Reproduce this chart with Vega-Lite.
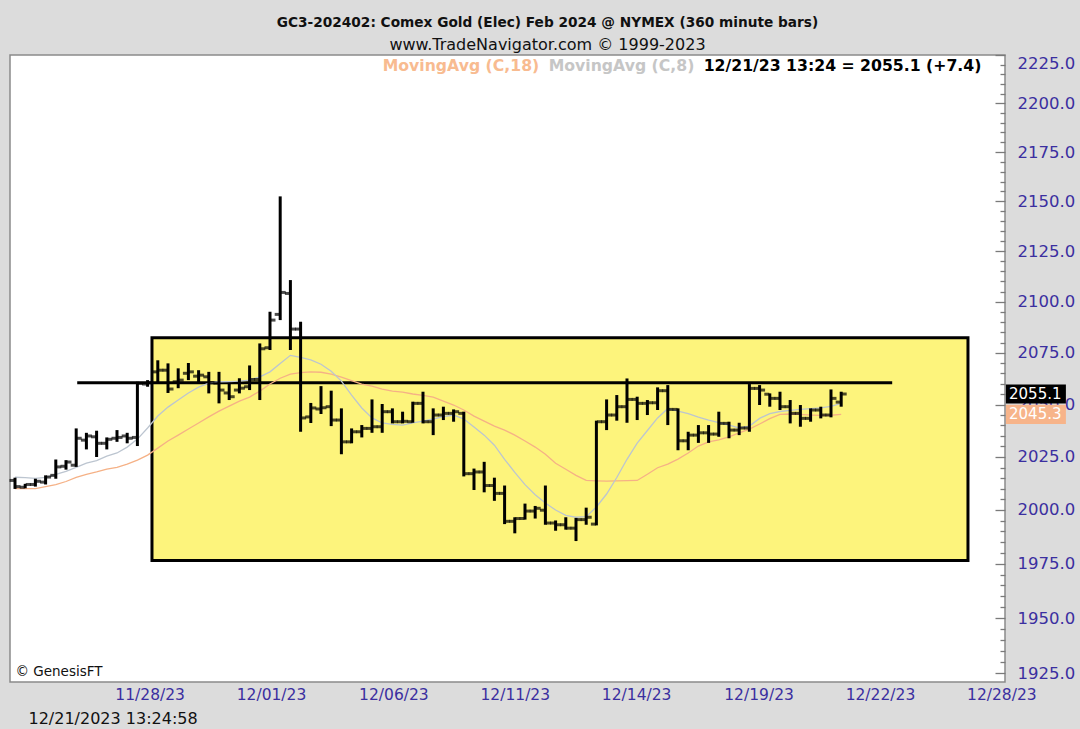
{
  "$schema": "https://vega.github.io/schema/vega-lite/v6.json",
  "width": 995,
  "height": 627,
  "autosize": {"type": "none"},
  "padding": {"left": 10, "top": 55, "right": 75, "bottom": 47},
  "background": "#dcdcdc",
  "config": {
    "font": "DejaVu Sans",
    "view": {"fill": "#ffffff", "stroke": "#8a8a8a", "strokeWidth": 1.5}
  },
  "title": {
    "text": "GC3-202402:  Comex Gold (Elec) Feb 2024 @ NYMEX  (360 minute bars)",
    "subtitle": "www.TradeNavigator.com © 1999-2023",
    "anchor": "middle",
    "dx": 40,
    "offset": 1,
    "font": "DejaVu Sans",
    "fontSize": 13.7,
    "fontWeight": "bold",
    "color": "#111111",
    "subtitleFont": "DejaVu Sans",
    "subtitleFontSize": 16,
    "subtitleColor": "#111111",
    "subtitlePadding": 8
  },
  "datasets": {
    "ohlc": [
      {"i":0,"o":2013.9,"h":2015.2,"l":2009.9,"c":2011.0,"ma8":2015.4,"ma18":2010.0},
      {"i":1,"o":2010.7,"h":2012.3,"l":2010.2,"c":2012.0,"ma8":2015.2,"ma18":2010.0},
      {"i":2,"o":2012.0,"h":2014.7,"l":2011.0,"c":2013.5,"ma8":2014.9,"ma18":2010.0},
      {"i":3,"o":2013.1,"h":2016.3,"l":2012.0,"c":2015.5,"ma8":2015.3,"ma18":2011.0},
      {"i":4,"o":2016.3,"h":2023.8,"l":2014.7,"c":2020.3,"ma8":2016.8,"ma18":2011.9},
      {"i":5,"o":2020.6,"h":2023.5,"l":2019.0,"c":2022.6,"ma8":2018.2,"ma18":2013.4},
      {"i":6,"o":2021.1,"h":2038.6,"l":2020.3,"c":2033.9,"ma8":2020.1,"ma18":2015.3},
      {"i":7,"o":2033.0,"h":2036.5,"l":2028.6,"c":2035.0,"ma8":2022.1,"ma18":2016.8},
      {"i":8,"o":2034.6,"h":2037.5,"l":2025.0,"c":2031.5,"ma8":2023.3,"ma18":2017.9},
      {"i":9,"o":2031.5,"h":2034.3,"l":2028.6,"c":2033.4,"ma8":2025.4,"ma18":2019.2},
      {"i":10,"o":2033.9,"h":2037.8,"l":2032.2,"c":2034.3,"ma8":2026.9,"ma18":2020.1},
      {"i":11,"o":2035.0,"h":2036.5,"l":2031.5,"c":2033.9,"ma8":2029.7,"ma18":2021.6},
      {"i":12,"o":2034.3,"h":2061.0,"l":2030.2,"c":2060.2,"ma8":2033.5,"ma18":2023.5},
      {"i":13,"o":2059.9,"h":2061.8,"l":2058.6,"c":2060.5,"ma8":2038.8,"ma18":2025.9},
      {"i":14,"o":2065.8,"h":2071.4,"l":2060.2,"c":2066.6,"ma8":2044.5,"ma18":2029.2},
      {"i":15,"o":2066.6,"h":2069.9,"l":2055.6,"c":2057.5,"ma8":2048.8,"ma18":2032.6},
      {"i":16,"o":2061.0,"h":2067.5,"l":2057.9,"c":2061.8,"ma8":2052.2,"ma18":2035.4},
      {"i":17,"o":2065.1,"h":2070.1,"l":2061.8,"c":2065.8,"ma8":2055.6,"ma18":2038.3},
      {"i":18,"o":2063.7,"h":2066.6,"l":2060.3,"c":2064.2,"ma8":2058.4,"ma18":2041.2},
      {"i":19,"o":2063.4,"h":2065.8,"l":2055.4,"c":2060.5,"ma8":2060.3,"ma18":2044.1},
      {"i":20,"o":2060.3,"h":2065.8,"l":2050.6,"c":2057.0,"ma8":2061.0,"ma18":2046.9},
      {"i":21,"o":2055.6,"h":2060.5,"l":2052.2,"c":2053.8,"ma8":2061.1,"ma18":2049.3},
      {"i":22,"o":2057.0,"h":2062.7,"l":2055.4,"c":2057.9,"ma8":2061.3,"ma18":2051.7},
      {"i":23,"o":2058.6,"h":2068.9,"l":2057.0,"c":2062.1,"ma8":2061.8,"ma18":2053.6},
      {"i":24,"o":2062.1,"h":2079.6,"l":2052.2,"c":2077.0,"ma8":2063.4,"ma18":2056.5},
      {"i":25,"o":2077.5,"h":2095.1,"l":2076.4,"c":2091.0,"ma8":2065.8,"ma18":2059.9},
      {"i":26,"o":2093.8,"h":2152.5,"l":2091.0,"c":2104.6,"ma8":2069.9,"ma18":2062.7},
      {"i":27,"o":2104.1,"h":2110.7,"l":2076.4,"c":2086.6,"ma8":2073.8,"ma18":2064.7},
      {"i":28,"o":2086.6,"h":2090.2,"l":2037.0,"c":2043.6,"ma8":2072.8,"ma18":2065.4},
      {"i":29,"o":2044.1,"h":2050.8,"l":2041.2,"c":2048.4,"ma8":2071.6,"ma18":2065.8},
      {"i":30,"o":2047.9,"h":2058.9,"l":2045.5,"c":2048.5,"ma8":2069.5,"ma18":2065.6},
      {"i":31,"o":2049.0,"h":2056.7,"l":2039.7,"c":2042.6,"ma8":2066.1,"ma18":2064.7},
      {"i":32,"o":2042.6,"h":2048.2,"l":2026.3,"c":2032.2,"ma8":2061.3,"ma18":2063.2},
      {"i":33,"o":2032.2,"h":2038.6,"l":2031.5,"c":2037.0,"ma8":2054.6,"ma18":2061.5},
      {"i":34,"o":2037.0,"h":2040.2,"l":2034.3,"c":2038.6,"ma8":2048.4,"ma18":2059.9},
      {"i":35,"o":2038.6,"h":2052.5,"l":2036.5,"c":2039.4,"ma8":2043.6,"ma18":2058.9},
      {"i":36,"o":2039.4,"h":2050.3,"l":2036.5,"c":2046.6,"ma8":2041.2,"ma18":2057.5},
      {"i":37,"o":2046.6,"h":2048.2,"l":2041.0,"c":2041.8,"ma8":2040.5,"ma18":2056.5},
      {"i":38,"o":2041.8,"h":2046.6,"l":2041.0,"c":2042.0,"ma8":2040.2,"ma18":2056.0},
      {"i":39,"o":2041.8,"h":2051.4,"l":2041.3,"c":2050.6,"ma8":2041.2,"ma18":2055.1},
      {"i":40,"o":2050.6,"h":2056.2,"l":2041.0,"c":2041.8,"ma8":2042.1,"ma18":2054.4},
      {"i":41,"o":2041.8,"h":2048.2,"l":2035.4,"c":2045.0,"ma8":2043.1,"ma18":2053.6},
      {"i":42,"o":2045.0,"h":2049.0,"l":2042.6,"c":2045.8,"ma8":2044.2,"ma18":2051.7},
      {"i":43,"o":2045.8,"h":2047.7,"l":2041.8,"c":2046.6,"ma8":2045.0,"ma18":2049.8},
      {"i":44,"o":2045.8,"h":2046.6,"l":2015.8,"c":2017.1,"ma8":2043.1,"ma18":2047.4},
      {"i":45,"o":2017.1,"h":2019.5,"l":2009.4,"c":2017.9,"ma8":2039.3,"ma18":2044.5},
      {"i":46,"o":2017.9,"h":2022.7,"l":2008.3,"c":2011.5,"ma8":2035.4,"ma18":2042.1},
      {"i":47,"o":2011.5,"h":2015.2,"l":2004.3,"c":2007.8,"ma8":2030.6,"ma18":2039.7},
      {"i":48,"o":2007.8,"h":2011.5,"l":1993.4,"c":1994.7,"ma8":2023.9,"ma18":2037.8},
      {"i":49,"o":1994.7,"h":1996.6,"l":1989.1,"c":1996.0,"ma8":2017.7,"ma18":2035.4},
      {"i":50,"o":1996.0,"h":2003.0,"l":1995.5,"c":1999.5,"ma8":2011.9,"ma18":2032.6},
      {"i":51,"o":1999.5,"h":2001.9,"l":1996.0,"c":2000.8,"ma8":2007.2,"ma18":2029.7},
      {"i":52,"o":1999.9,"h":2011.5,"l":1993.1,"c":1993.9,"ma8":2003.3,"ma18":2026.3},
      {"i":53,"o":1993.9,"h":1995.1,"l":1990.3,"c":1993.1,"ma8":2000.0,"ma18":2022.0},
      {"i":54,"o":1993.1,"h":1996.6,"l":1990.8,"c":1991.5,"ma8":1997.5,"ma18":2019.2},
      {"i":55,"o":1991.5,"h":1996.3,"l":1985.5,"c":1995.5,"ma8":1996.6,"ma18":2016.3},
      {"i":56,"o":1995.5,"h":2001.1,"l":1993.1,"c":1996.6,"ma8":1996.9,"ma18":2013.9},
      {"i":57,"o":1993.4,"h":2042.3,"l":1992.8,"c":2041.8,"ma8":2001.4,"ma18":2013.7},
      {"i":58,"o":2041.8,"h":2052.5,"l":2037.8,"c":2045.0,"ma8":2007.5,"ma18":2013.6},
      {"i":59,"o":2045.0,"h":2054.6,"l":2042.3,"c":2049.0,"ma8":2015.3,"ma18":2013.7},
      {"i":60,"o":2049.0,"h":2062.6,"l":2041.3,"c":2052.5,"ma8":2023.9,"ma18":2013.8},
      {"i":61,"o":2052.5,"h":2053.8,"l":2042.6,"c":2050.6,"ma8":2031.6,"ma18":2013.9},
      {"i":62,"o":2050.6,"h":2052.2,"l":2045.0,"c":2050.9,"ma8":2037.6,"ma18":2016.8},
      {"i":63,"o":2050.9,"h":2058.3,"l":2047.4,"c":2056.7,"ma8":2043.6,"ma18":2019.9},
      {"i":64,"o":2056.7,"h":2059.4,"l":2040.2,"c":2047.7,"ma8":2048.1,"ma18":2021.6},
      {"i":65,"o":2047.7,"h":2048.2,"l":2028.2,"c":2032.7,"ma8":2046.9,"ma18":2024.0},
      {"i":66,"o":2032.7,"h":2037.0,"l":2028.2,"c":2035.4,"ma8":2045.7,"ma18":2026.9},
      {"i":67,"o":2035.4,"h":2040.2,"l":2031.7,"c":2036.5,"ma8":2044.0,"ma18":2030.2},
      {"i":68,"o":2036.5,"h":2040.2,"l":2031.7,"c":2035.9,"ma8":2042.6,"ma18":2032.2},
      {"i":69,"o":2035.9,"h":2046.6,"l":2034.6,"c":2041.0,"ma8":2041.4,"ma18":2033.1},
      {"i":70,"o":2041.0,"h":2041.8,"l":2033.9,"c":2037.8,"ma8":2040.2,"ma18":2034.6},
      {"i":71,"o":2037.8,"h":2041.3,"l":2035.4,"c":2038.8,"ma8":2038.8,"ma18":2036.5},
      {"i":72,"o":2038.8,"h":2059.9,"l":2037.0,"c":2057.8,"ma8":2039.7,"ma18":2038.3},
      {"i":73,"o":2057.8,"h":2059.4,"l":2049.8,"c":2057.0,"ma8":2043.4,"ma18":2040.7},
      {"i":74,"o":2055.0,"h":2055.4,"l":2049.0,"c":2053.0,"ma8":2045.7,"ma18":2043.3},
      {"i":75,"o":2053.0,"h":2056.2,"l":2047.4,"c":2049.0,"ma8":2046.7,"ma18":2045.3},
      {"i":76,"o":2049.0,"h":2052.2,"l":2041.0,"c":2045.8,"ma8":2047.2,"ma18":2045.5},
      {"i":77,"o":2045.8,"h":2049.8,"l":2039.4,"c":2043.4,"ma8":2047.7,"ma18":2045.3},
      {"i":78,"o":2043.4,"h":2048.2,"l":2041.8,"c":2047.4,"ma8":2048.1,"ma18":2045.0},
      {"i":79,"o":2047.4,"h":2049.0,"l":2043.4,"c":2045.0,"ma8":2048.4,"ma18":2044.8},
      {"i":80,"o":2045.0,"h":2057.3,"l":2043.9,"c":2053.0,"ma8":2049.1,"ma18":2044.9},
      {"i":81,"o":2051.2,"h":2056.2,"l":2049.0,"c":2055.1,"ma8":2050.6,"ma18":2045.3}
    ],
    "box": [{"a": 13.43, "b": 93.43, "lo": 1976.5, "hi": 2082.4}],
    "level": [{"a": 6.1, "b": 86.0, "lvl": 2060.5}]
  },
  "layer": [
    {
      "data": {"name": "box"},
      "mark": {"type": "rect", "fill": "#fdf47c", "stroke": "#000000", "strokeWidth": 3},
      "encoding": {
        "x": {
          "field": "a", "type": "quantitative",
          "scale": {"domain": [-0.49, 97.06], "nice": false, "zero": false},
          "axis": {
            "values": [13.2, 25.1, 37.1, 49.0, 60.9, 72.9, 84.8, 96.7],
            "labelExpr": "datum.value < 20 ? '11/28/23' : datum.value < 30 ? '12/01/23' : datum.value < 40 ? '12/06/23' : datum.value < 55 ? '12/11/23' : datum.value < 65 ? '12/14/23' : datum.value < 78 ? '12/19/23' : datum.value < 90 ? '12/22/23' : '12/28/23'",
            "domain": false, "ticks": false, "grid": false,
            "labelColor": "#3b2fa0", "labelFont": "DejaVu Sans", "labelFontSize": 15.5,
            "labelPadding": 5, "labelFlush": false, "labelOverlap": false, "labelBound": false,
            "title": "12/21/2023 13:24:58", "titleX": 18, "titleY": 36,
            "titleAnchor": "start", "titleAlign": "left", "titleBaseline": "middle",
            "titleFont": "DejaVu Sans", "titleFontSize": 16, "titleFontWeight": "normal", "titleColor": "#111111"
          }
        },
        "x2": {"field": "b"},
        "y": {
          "field": "lo", "type": "quantitative",
          "scale": {"type": "log", "domain": [1921, 2225], "nice": false, "zero": false},
          "axis": {
            "orient": "right",
            "values": [1925,1930,1935,1940,1945,1950,1955,1960,1965,1970,1975,1980,1985,1990,1995,2000,2005,2010,2015,2020,2025,2030,2035,2040,2045,2050,2055,2060,2065,2070,2075,2080,2085,2090,2095,2100,2105,2110,2115,2120,2125,2130,2135,2140,2145,2150,2155,2160,2165,2170,2175,2180,2185,2190,2195,2200,2205,2210,2215,2220,2225],
            "labelExpr": "datum.value % 25 === 0 ? format(datum.value, '.1f') : ''",
            "tickSize": -10,
            "tickDash": {"condition": {"test": "datum.value % 25 === 0", "value": []}, "value": [5, 20]},
            "tickColor": "#7a7a7a", "tickWidth": 1.3,
            "domain": false, "grid": false,
            "labelPadding": 22, "labelOverlap": false, "labelBound": false, "labelFlush": 1,
            "labelColor": "#3b2fa0", "labelFont": "DejaVu Sans", "labelFontSize": 16.5,
            "title": "© GenesisFT", "titleX": -990, "titleY": 616, "titleAngle": 0,
            "titleAlign": "left", "titleBaseline": "middle",
            "titleFont": "DejaVu Sans", "titleFontSize": 13.5, "titleFontWeight": "normal", "titleColor": "#111111"
          }
        },
        "y2": {"field": "hi"}
      }
    },
    {
      "data": {"name": "level"},
      "mark": {"type": "rule", "color": "#000000", "strokeWidth": 3},
      "encoding": {
        "x": {"field": "a", "type": "quantitative"},
        "x2": {"field": "b"},
        "y": {"field": "lvl", "type": "quantitative"}
      }
    },
    {
      "data": {"name": "ohlc"},
      "transform": [{"fold": ["ma18", "ma8"], "as": ["series", "val"]}],
      "mark": {"type": "line", "strokeWidth": 1.3},
      "encoding": {
        "x": {"field": "i", "type": "quantitative"},
        "y": {"field": "val", "type": "quantitative"},
        "color": {
          "field": "series", "type": "nominal",
          "scale": {"domain": ["ma18", "ma8", "readout"], "range": ["#f5b186", "#bcc5d0", "#000000"]},
          "legend": {
            "orient": "none", "legendX": 373, "legendY": 3,
            "direction": "horizontal", "title": null,
            "symbolSize": 0, "symbolStrokeWidth": 0, "symbolOpacity": 0,
            "labelOffset": -16, "columnPadding": 8, "labelLimit": 400,
            "labelFont": "DejaVu Sans", "labelFontSize": 15.7, "labelFontWeight": "bold",
            "labelExpr": "datum.value === 'ma18' ? 'MovingAvg (C,18)' : datum.value === 'ma8' ? 'MovingAvg (C,8)' : '12/21/23 13:24 = 2055.1 (+7.4)'",
            "encode": {"labels": {"update": {"fill": {"signal": "datum.value === 'ma18' ? '#f8bb90' : datum.value === 'ma8' ? '#c6c6c6' : '#000000'"}}}}
          }
        }
      }
    },
    {
      "data": {"name": "ohlc"},
      "mark": {"type": "rule", "color": "#000000", "strokeWidth": 3},
      "encoding": {
        "x": {"field": "i", "type": "quantitative"},
        "y": {"field": "l", "type": "quantitative"},
        "y2": {"field": "h"}
      }
    },
    {
      "data": {"name": "ohlc"},
      "mark": {"type": "tick", "orient": "horizontal", "color": "#000000", "size": 5, "thickness": 3, "xOffset": -3},
      "encoding": {
        "x": {"field": "i", "type": "quantitative"},
        "y": {"field": "o", "type": "quantitative"}
      }
    },
    {
      "data": {"name": "ohlc"},
      "mark": {"type": "tick", "orient": "horizontal", "color": "#000000", "size": 5, "thickness": 3, "xOffset": 3},
      "encoding": {
        "x": {"field": "i", "type": "quantitative"},
        "y": {"field": "c", "type": "quantitative"}
      }
    },
    {
      "data": {"name": "ohlc"},
      "transform": [{"filter": "datum.i === 81"}],
      "layer": [
        {
          "mark": {"type": "point", "shape": "M0.03,-0.32H2.03V0.32H0.03Z", "size": 3600, "filled": true, "fill": "#000000", "opacity": 1, "strokeWidth": 0},
          "encoding": {"x": {"value": "width"}, "y": {"field": "c", "type": "quantitative"}}
        },
        {
          "mark": {"type": "point", "shape": "M0.03,-0.32H2.03V0.32H0.03Z", "size": 3600, "filled": true, "fill": "#f7b48a", "opacity": 1, "strokeWidth": 0},
          "encoding": {"x": {"value": "width"}, "y": {"field": "ma18", "type": "quantitative"}}
        },
        {
          "mark": {"type": "text", "align": "left", "baseline": "middle", "dx": 4, "font": "DejaVu Sans", "fontSize": 15, "color": "#ffffff"},
          "encoding": {"x": {"value": "width"}, "y": {"field": "c", "type": "quantitative"}, "text": {"field": "c", "type": "quantitative", "format": ".1f"}}
        },
        {
          "mark": {"type": "text", "align": "left", "baseline": "middle", "dx": 4, "font": "DejaVu Sans", "fontSize": 15, "color": "#ffffff"},
          "encoding": {"x": {"value": "width"}, "y": {"field": "ma18", "type": "quantitative"}, "text": {"field": "ma18", "type": "quantitative", "format": ".1f"}}
        }
      ]
    }
  ]
}
